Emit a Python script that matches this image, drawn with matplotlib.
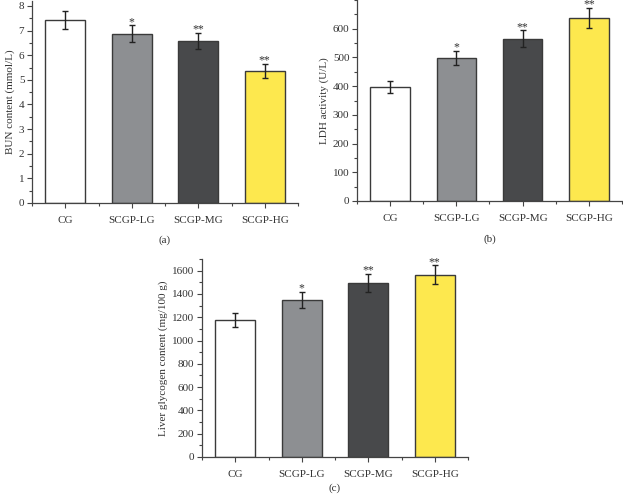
import numpy as np
import matplotlib
matplotlib.use('Agg')
import matplotlib.pyplot as plt
from matplotlib.ticker import MultipleLocator, FixedLocator

plt.rcParams['font.family'] = ['Liberation Serif', 'DejaVu Serif']

groups = ['CG', 'SCGP-LG', 'SCGP-MG', 'SCGP-HG']
colors = ['#ffffff', '#8d8f92', '#48494b', '#fde84e']

bun = [7.43, 6.87, 6.58, 5.36]
bun_err = [0.37, 0.35, 0.33, 0.28]

ldh = [397, 498, 565, 637]
ldh_err = [21, 25, 29, 35]

glycogen = [1177, 1351, 1497, 1566]
glycogen_err = [62, 68, 78, 81]

stars = ['', '*', '**', '**']

W, H = 623, 497
fig = plt.figure(figsize=(W / 100, H / 100), dpi=100)

def px_axes(left, right, top, bottom):
    return fig.add_axes([left / W, 1 - bottom / H, (right - left) / W, (bottom - top) / H])

txt = '#333333'

def panel(ax, vals, errs, ylim, major, minor, ylabel, tag, tag_y):
    x = np.arange(len(groups))
    ax.bar(x, vals, width=0.6, color=colors, edgecolor='#3a3a3a', linewidth=1.0, zorder=2)
    ax.errorbar(x, vals, yerr=errs, fmt='none', ecolor='#222222', elinewidth=1.0,
                capsize=2.5, capthick=1.0, zorder=3)
    # significance stars just above the error caps
    for xi, v, e, s in zip(x, vals, errs, stars):
        if s:
            ax.annotate(s, (xi, v + e), xytext=(0, -2), textcoords='offset points',
                        ha='center', va='bottom', fontsize=8.5, color=txt,
                        annotation_clip=False)
    ax.set_xlim(-0.5, 3.5)
    ax.set_ylim(*ylim)
    ax.set_xticks(x)
    ax.set_xticklabels(groups)
    ax.xaxis.set_minor_locator(FixedLocator([-0.5, 0.5, 1.5, 2.5, 3.5]))
    ax.yaxis.set_major_locator(MultipleLocator(major))
    ax.yaxis.set_minor_locator(MultipleLocator(minor))
    ax.set_ylabel(ylabel, fontsize=8, color=txt, labelpad=3)
    for side in ['top', 'right']:
        ax.spines[side].set_visible(False)
    for side in ['left', 'bottom']:
        ax.spines[side].set_color('#444444')
        ax.spines[side].set_linewidth(0.9)
    ax.tick_params(which='major', direction='out', length=3.5, width=0.8, color='#444444',
                   labelsize=8, labelcolor=txt, pad=2)
    ax.tick_params(which='minor', direction='out', length=2, width=0.8, color='#444444')
    ax.tick_params(axis='x', which='major', pad=6)
    # panel tag, placed in figure pixels
    bbox = ax.get_position()
    fig.text(bbox.x0 + bbox.width / 2, 1 - tag_y / H, tag, ha='center', va='center',
             fontsize=8, color=txt)

ax_a = px_axes(32, 298, 1, 203)
panel(ax_a, bun, bun_err, (0, 8.2), 1, 0.5, 'BUN content (mmol/L)', '(a)', 240)
ax_a.set_yticks(range(0, 9))

ax_b = px_axes(357, 622, 0, 201)
panel(ax_b, ldh, ldh_err, (0, 700), 100, 50, 'LDH activity (U/L)', '(b)', 239)
ax_b.set_yticks(range(0, 700, 100))

ax_c = px_axes(202, 468, 259, 457)
panel(ax_c, glycogen, glycogen_err, (0, 1700), 200, 100, 'Liver glycogen content (mg/100 g)', '(c)', 488)
ax_c.set_yticks(range(0, 1700, 200))

fig.savefig('out.png', dpi=100)
